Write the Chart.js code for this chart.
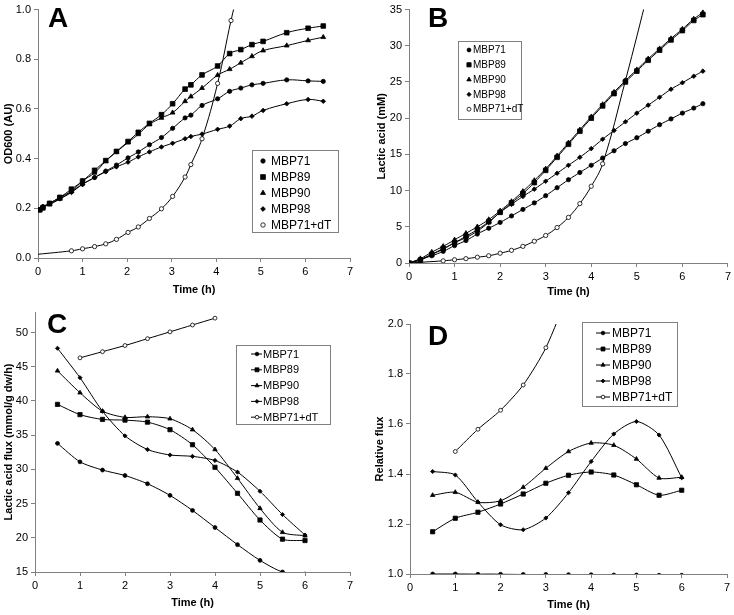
<!DOCTYPE html>
<html>
<head>
<meta charset="utf-8">
<script src="https://cdn.jsdelivr.net/npm/chart.js@4/dist/chart.umd.min.js"></script>
<style>
  body { margin: 0; background: #fff; }
  #wrap { position: relative; width: 734px; height: 615px; }
  canvas { position: absolute; }
</style>
</head>
<body>
<div id="wrap">
  <canvas id="chartA" width="367" height="300" style="left:0;top:0"></canvas>
  <canvas id="chartB" width="367" height="300" style="left:367px;top:0"></canvas>
  <canvas id="chartC" width="367" height="315" style="left:0;top:300px"></canvas>
  <canvas id="chartD" width="367" height="315" style="left:367px;top:300px"></canvas>
</div>
<script>
// ---- data ----
const seriesNames = ['MBP71', 'MBP89', 'MBP90', 'MBP98', 'MBP71+dT'];

// A: growth, OD600
const timeA = [0.04, 0.11, 0.26, 0.49, 0.75, 1.0, 1.27, 1.52, 1.76, 2.02, 2.25, 2.5, 2.77, 3.02, 3.3, 3.43, 3.68, 4.03, 4.3, 4.55, 4.8, 5.05, 5.58, 6.06, 6.4];
const odMBP71 = [0.194, 0.207, 0.22, 0.244, 0.268, 0.297, 0.324, 0.35, 0.374, 0.403, 0.427, 0.456, 0.485, 0.522, 0.564, 0.575, 0.614, 0.641, 0.671, 0.684, 0.697, 0.703, 0.717, 0.713, 0.711];
const odMBP89 = [0.194, 0.202, 0.22, 0.244, 0.277, 0.31, 0.353, 0.392, 0.429, 0.469, 0.506, 0.542, 0.577, 0.621, 0.68, 0.697, 0.737, 0.773, 0.823, 0.839, 0.859, 0.872, 0.907, 0.925, 0.934];
const odMBP90 = [0.194, 0.205, 0.215, 0.238, 0.268, 0.31, 0.343, 0.39, 0.427, 0.465, 0.498, 0.538, 0.564, 0.585, 0.631, 0.65, 0.684, 0.736, 0.76, 0.786, 0.812, 0.835, 0.855, 0.876, 0.889];
const odMBP98 = [0.194, 0.205, 0.218, 0.238, 0.264, 0.297, 0.324, 0.347, 0.367, 0.386, 0.407, 0.427, 0.447, 0.462, 0.48, 0.489, 0.499, 0.518, 0.531, 0.561, 0.571, 0.594, 0.621, 0.638, 0.631];
// dT curve: first and last values are the ends of the drawn curve (no marker)
const timeA_dT = [0, 0.75, 1.0, 1.27, 1.52, 1.76, 2.02, 2.25, 2.5, 2.77, 3.02, 3.3, 3.43, 3.68, 4.03, 4.33, 4.5];
const odDT = [0.015, 0.029, 0.037, 0.046, 0.057, 0.075, 0.103, 0.125, 0.159, 0.198, 0.248, 0.326, 0.376, 0.48, 0.703, 0.956, 1.08];

// B: lactic acid (mM)
const timeB = [0, 0.25, 0.5, 0.75, 1, 1.25, 1.5, 1.75, 2, 2.25, 2.5, 2.75, 3, 3.25, 3.5, 3.75, 4, 4.25, 4.5, 4.75, 5, 5.25, 5.5, 5.75, 6, 6.25, 6.45];
const laMBP71 = [0, 0.5, 1.0, 1.6, 2.4, 3.1, 4.0, 4.8, 5.6, 6.5, 7.4, 8.3, 9.3, 10.4, 11.5, 12.5, 13.5, 14.5, 15.5, 16.5, 17.3, 18.2, 19.1, 19.9, 20.7, 21.4, 22.0];
const laMBP89 = [0, 0.4, 1.2, 2.0, 2.8, 3.7, 4.6, 5.7, 7.0, 8.3, 9.6, 11.1, 12.8, 14.6, 16.4, 18.2, 20.0, 21.7, 23.4, 25.0, 26.5, 28.0, 29.4, 30.8, 32.1, 33.5, 34.3];
const laMBP90 = [0, 0.6, 1.5, 2.3, 3.2, 4.1, 5.0, 6.0, 7.2, 8.5, 9.9, 11.4, 13.0, 14.8, 16.6, 18.4, 20.2, 21.9, 23.6, 25.2, 26.7, 28.2, 29.6, 31.0, 32.3, 33.7, 34.6];
const laMBP98 = [0, 0.5, 1.2, 1.9, 2.8, 3.5, 4.4, 5.6, 7.0, 8.1, 9.2, 10.2, 11.3, 12.4, 13.5, 14.6, 15.8, 17.1, 18.3, 19.5, 20.7, 21.8, 22.9, 24.0, 24.9, 25.8, 26.5];
const timeB_dT = [0, 0.75, 1, 1.25, 1.5, 1.75, 2, 2.25, 2.5, 2.75, 3, 3.25, 3.5, 3.75, 4, 4.25, 4.75, 5.25];
const laDT = [0, 0.3, 0.45, 0.6, 0.8, 1.0, 1.35, 1.75, 2.3, 3.0, 3.8, 4.9, 6.3, 8.2, 10.6, 13.7, 25.2, 37.5];

// C: lactic acid flux (mmol/g dw/h)
const timeCD = [0.5, 1, 1.5, 2, 2.5, 3, 3.5, 4, 4.5, 5, 5.5, 6];
const fxMBP71 = [33.8, 31.1, 29.9, 29.1, 27.9, 26.2, 24.0, 21.5, 19.0, 16.7, 15.0, 14.7];
const fxMBP89 = [39.5, 38.0, 37.3, 37.2, 36.9, 35.8, 33.6, 30.3, 26.5, 22.6, 19.8, 19.6];
const fxMBP90 = [44.4, 41.2, 38.5, 37.6, 37.7, 37.4, 35.8, 32.9, 28.7, 24.3, 20.8, 20.3];
const fxMBP98 = [47.7, 43.4, 38.5, 34.9, 32.9, 32.1, 31.9, 31.3, 29.6, 26.8, 23.4, 20.4];
const timeCD_dT = [1, 1.5, 2, 2.5, 3, 3.5, 4];
const fxDT = [46.3, 47.2, 48.1, 49.1, 50.1, 51.1, 52.1];

// D: relative flux
const rfMBP71 = [1.0, 1.0, 0.999, 0.999, 0.998, 0.998, 0.997, 0.997, 0.996, 0.996, 0.995, 0.995];
const rfMBP89 = [1.169, 1.223, 1.247, 1.28, 1.32, 1.363, 1.395, 1.408, 1.396, 1.357, 1.315, 1.335];
const rfMBP90 = [1.315, 1.327, 1.287, 1.293, 1.347, 1.423, 1.49, 1.524, 1.515, 1.46, 1.384, 1.387];
const rfMBP98 = [1.41, 1.396, 1.288, 1.197, 1.177, 1.224, 1.325, 1.45, 1.56, 1.61, 1.556, 1.385];
const rfDT = [1.49, 1.579, 1.655, 1.756, 1.905, 2.13, 2.42];

const FONT = '"Liberation Sans", Arial, Helvetica, sans-serif';

// marker look per series
const markers = {
  'MBP71':    { style: 'circle',   r: 2.6, fill: '#000' },
  'MBP89':    { style: 'rect',     r: 4.0, fill: '#000' },
  'MBP90':    { style: 'triangle', r: 3.4, fill: '#000' },
  'MBP98':    { style: 'rectRot',  r: 2.8, fill: '#000' },
  'MBP71+dT': { style: 'circle',   r: 2.6, fill: '#fff' }
};

function pts(xs, ys) {
  return xs.map(function(x, i) { return { x: x, y: ys[i] }; });
}

// builds one dataset; hideIdx = indices drawn as curve only
function series(name, xs, ys, scale, tension, hideIdx) {
  const m = markers[name];
  const r = m.r * scale;
  const hidden = hideIdx || [];
  return {
    label: name,
    data: pts(xs, ys),
    borderColor: '#000',
    borderWidth: 1,
    tension: tension,
    pointStyle: m.style,
    pointRadius: function(c) { return hidden.indexOf(c.dataIndex) >= 0 ? 0 : r; },
    pointBackgroundColor: m.fill,
    pointBorderColor: '#000',
    pointBorderWidth: 0.8,
    pointHoverRadius: 0,
    fill: false
  };
}

// panel letter + boxed legend
const panelDeco = {
  id: 'panelDeco',
  afterDraw: function(chart, args, opts) {
    const ctx = chart.ctx;
    ctx.save();
    ctx.fillStyle = '#000';
    ctx.textAlign = 'left';
    ctx.textBaseline = 'alphabetic';
    ctx.font = 'bold 28px ' + FONT;
    ctx.fillText(opts.letter, opts.letterX, opts.letterY);

    const lg = opts.legend;
    ctx.strokeStyle = '#808080';
    ctx.lineWidth = 1;
    ctx.strokeRect(lg.x + 0.5, lg.y + 0.5, lg.w, lg.h);

    ctx.font = lg.size + 'px ' + FONT;
    ctx.textBaseline = 'middle';
    seriesNames.forEach(function(name, i) {
      const y = lg.firstY + i * lg.step;
      const m = markers[name];
      if (lg.line) {
        ctx.strokeStyle = '#000';
        ctx.lineWidth = 1;
        ctx.beginPath();
        ctx.moveTo(lg.lineX0, y);
        ctx.lineTo(lg.lineX1, y);
        ctx.stroke();
      }
      ctx.fillStyle = m.fill;
      ctx.strokeStyle = '#000';
      ctx.lineWidth = 0.8;
      Chart.helpers.drawPoint(ctx, { pointStyle: m.style, radius: m.r * lg.markScale, rotation: 0, borderWidth: 0.8 }, lg.markX, y);
      ctx.fillStyle = '#000';
      ctx.fillText(name, lg.textX, y + 0.5);
    });
    ctx.restore();
  }
};

function axes(p) {
  const tickFont = { family: FONT, size: 11 };
  const titleFont = { family: FONT, size: 11, weight: 'bold', lineHeight: 1.2 };
  return {
    x: {
      type: 'linear', min: 0, max: 7,
      ticks: { stepSize: 1, color: '#000', font: tickFont, padding: 3, maxRotation: 0 },
      grid: { display: true, drawOnChartArea: false, drawTicks: true, tickLength: 4, color: '#808080' },
      border: { display: true, color: '#808080' },
      title: { display: true, text: 'Time (h)', color: '#000', font: titleFont, padding: { top: 0, bottom: p.xTitlePad } },
      afterFit: function(s) { s.height = p.xH; }
    },
    y: {
      type: 'linear', min: p.yMin, max: p.yMax,
      ticks: {
        stepSize: p.yStep, color: '#000', font: tickFont, padding: 3,
        callback: function(v) { return v.toFixed(p.yDec); }
      },
      afterBuildTicks: function(s) {
        s.ticks = s.ticks.filter(function(t) {
          const k = (t.value - p.yMin) / p.yStep;
          return Math.abs(k - Math.round(k)) < 1e-6;
        });
      },
      grid: { display: true, drawOnChartArea: false, drawTicks: true, tickLength: 4, color: '#808080' },
      border: { display: true, color: '#808080' },
      title: { display: true, text: p.yTitle, color: '#000', font: titleFont, padding: { top: p.yTitlePad, bottom: 0 } },
      afterFit: function(s) { s.width = p.yW; }
    }
  };
}

function makePanel(id, datasets, p, deco) {
  new Chart(document.getElementById(id), {
    type: 'line',
    data: { datasets: datasets },
    options: {
      responsive: false,
      animation: false,
      devicePixelRatio: 1,
      layout: { padding: { left: 0, top: p.padTop, right: p.padRight, bottom: 0 } },
      plugins: {
        legend: { display: false },
        tooltip: { enabled: false },
        panelDeco: deco
      },
      scales: axes(p)
    },
    plugins: [panelDeco]
  });
}

// ---- panel A ----
makePanel('chartA', [
  series('MBP71', timeA, odMBP71, 0.82, 0.4),
  series('MBP89', timeA, odMBP89, 0.82, 0.4),
  series('MBP90', timeA, odMBP90, 0.82, 0.4),
  series('MBP98', timeA, odMBP98, 0.82, 0.4),
  series('MBP71+dT', timeA_dT, odDT, 0.82, 0.4, [0, timeA_dT.length - 1])
], { yMin: 0, yMax: 1, yStep: 0.2, yDec: 1, yTitle: 'OD600 (AU)', yW: 38, xH: 42, padTop: 6, padRight: 17, xTitlePad: 3.5, yTitlePad: 2.4 },
{ letter: 'A', letterX: 48, letterY: 27,
  legend: { x: 252, y: 150, w: 86, h: 82, size: 12, firstY: 161, step: 16, markX: 263, textX: 271, markScale: 0.85, line: false } });

// ---- panel B ----
makePanel('chartB', [
  series('MBP71', timeB, laMBP71, 0.82, 0.4),
  series('MBP89', timeB, laMBP89, 0.82, 0.4),
  series('MBP90', timeB, laMBP90, 0.82, 0.4),
  series('MBP98', timeB, laMBP98, 0.82, 0.4),
  series('MBP71+dT', timeB_dT, laDT, 0.82, 0.4, [timeB_dT.length - 1])
], { yMin: 0, yMax: 35, yStep: 5, yDec: 0, yTitle: 'Lactic acid (mM)', yW: 42, xH: 37, padTop: 7, padRight: 6, xTitlePad: 1, yTitlePad: 8.4 },
{ letter: 'B', letterX: 61, letterY: 27,
  legend: { x: 91, y: 41, w: 63, h: 78, size: 10, firstY: 50, step: 14.8, markX: 102, textX: 106, markScale: 0.75, line: false } });

// ---- panel C ----
makePanel('chartC', [
  series('MBP71', timeCD, fxMBP71, 0.75, 0.25),
  series('MBP89', timeCD, fxMBP89, 0.75, 0.25),
  series('MBP90', timeCD, fxMBP90, 0.75, 0.25),
  series('MBP98', timeCD, fxMBP98, 0.75, 0.25),
  series('MBP71+dT', timeCD_dT, fxDT, 0.75, 0.25)
], { yMin: 15, yMax: 53, yStep: 5, yDec: 0, yTitle: 'Lactic acid flux (mmol/g dw/h)', yW: 35, xH: 43, padTop: 12, padRight: 17, xTitlePad: 5.4, yTitlePad: 2.4 },
{ letter: 'C', letterX: 47, letterY: 33,
  legend: { x: 236, y: 45, w: 94, h: 79, size: 11, firstY: 54, step: 15.8, markX: 257, textX: 263, markScale: 0.7, line: true, lineX0: 251, lineX1: 262 } });

// ---- panel D ----
makePanel('chartD', [
  series('MBP71', timeCD, rfMBP71, 0.75, 0.25),
  series('MBP89', timeCD, rfMBP89, 0.75, 0.25),
  series('MBP90', timeCD, rfMBP90, 0.75, 0.25),
  series('MBP98', timeCD, rfMBP98, 0.75, 0.25),
  series('MBP71+dT', timeCD_dT, rfDT, 0.75, 0.25)
], { yMin: 1, yMax: 2, yStep: 0.2, yDec: 1, yTitle: 'Relative flux', yW: 43, xH: 41, padTop: 24, padRight: 7, xTitlePad: 3.4, yTitlePad: 6.4 },
{ letter: 'D', letterX: 61, letterY: 45,
  legend: { x: 215, y: 22, w: 95, h: 84, size: 12, firstY: 33, step: 16, markX: 236, textX: 245, markScale: 0.7, line: true, lineX0: 229, lineX1: 243 } });
</script>
</body>
</html>
